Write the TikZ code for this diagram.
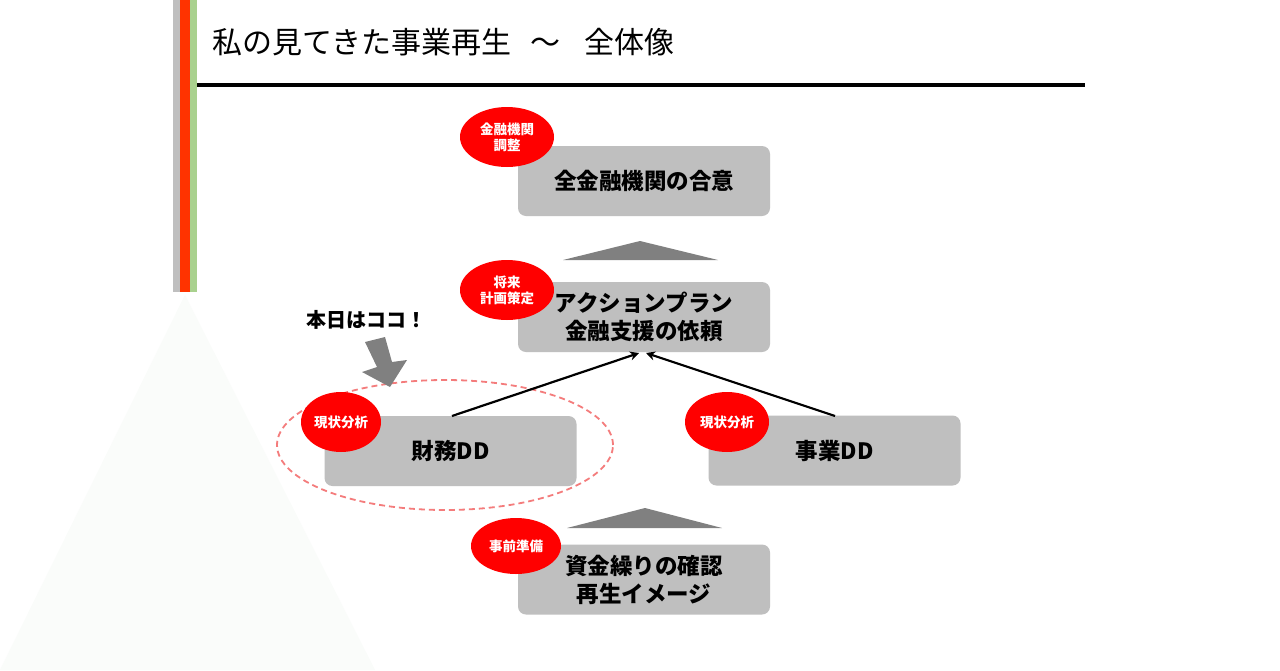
\documentclass[tikz,border=0pt]{standalone}
\usepackage{fontspec}
\setmainfont{Noto Sans CJK JP}
\usetikzlibrary{shapes.geometric,arrows.meta}
\definecolor{boxgray}{HTML}{BFBFBF}
\definecolor{trigray}{HTML}{808080}
\definecolor{badgered}{HTML}{FF0000}
\definecolor{barred}{HTML}{FF3300}
\definecolor{bargreen}{HTML}{A9D18E}
\definecolor{bargray}{HTML}{BFBFBF}
\definecolor{dashred}{HTML}{F47C7C}
\definecolor{faint}{HTML}{FAFCFA}
\tikzset{
  stepbox/.style={fill=boxgray, rounded corners=8pt, minimum width=252pt, minimum height=70pt, inner sep=0pt, align=center, font=\fontsize{22.5}{28}\selectfont\bfseries},
  badge/.style={ellipse, fill=badgered, inner sep=0pt, text=white, align=center, font=\fontsize{13.5}{16}\selectfont\bfseries},
  conn/.style={line width=2.2pt, -{Stealth[length=9pt,width=9pt]}},
}
\begin{document}
\begin{tikzpicture}[x=1pt,y=-1pt]
\useasboundingbox (0,0) rectangle (1280,670);
\fill[white] (0,0) rectangle (1280,670);
% faint triangle
\fill[faint] (185,295) -- (0,670) -- (375,670) -- cycle;
% vertical bars
\fill[bargray] (173,0) rectangle (180,292);
\fill[barred] (180,0) rectangle (190,292);
\fill[bargreen] (190,0) rectangle (197,292);
% title and rule
\node[anchor=west, inner sep=0pt, font=\fontsize{30}{34}\selectfont] (title) at (212,42) {私の見てきた事業再生\hspace{19pt}～\hspace{24pt}全体像};
\draw[line width=4pt] (197,85) -- (1085,85);
% boxes
\node[stepbox] (b1) at (644,181) {全金融機関の合意};
\node[stepbox] (b2) at (644,317) {アクションプラン\\金融支援の依頼};
\node[stepbox] (b3) at (450.5,451) {財務DD};
\node[stepbox] (b4) at (834.5,450.5) {事業DD};
\node[stepbox] (b5) at (644,579.5) {資金繰りの確認\\再生イメージ};
% triangles
\fill[trigray] (563,260) -- (640,241) -- (718,260) -- cycle;
\fill[trigray] (567,528) -- (645,508) -- (722,528) -- cycle;
% dashed ellipse
\node[ellipse, draw=dashred, dashed, dash pattern=on 6pt off 4pt, line width=1.8pt, minimum width=336pt, minimum height=130pt] (focus) at (445,445) {};
% badges
\node[badge, minimum width=94pt, minimum height=60pt] (e1) at (507,137) {金融機関\\調整};
\node[badge, minimum width=94pt, minimum height=60pt] (e2) at (507,290) {将来\\計画策定};
\node[badge, minimum width=80pt, minimum height=60pt] (e3) at (341,422) {現状分析};
\node[badge, minimum width=84pt, minimum height=60pt] (e4) at (727,422) {現状分析};
\node[badge, minimum width=90pt, minimum height=56pt] (e5) at (516,546) {事前準備};
% connectors
\coordinate (s3) at (452,416);
\coordinate (s4) at (835,416);
\coordinate (t3) at (639,353);
\coordinate (t4) at (646,353);
\draw[conn] (s3) -- (t3);
\draw[conn] (s4) -- (t4);
% today marker
\node[anchor=center, inner sep=0pt, font=\fontsize{20}{24}\selectfont\bfseries] (today) at (366,320) {本日はココ！};
\fill[trigray] (365,342) -- (385,337) -- (392,362) -- (407,360) -- (390,387) -- (362,372) -- (377,367) -- cycle;
\end{tikzpicture}
\end{document}
